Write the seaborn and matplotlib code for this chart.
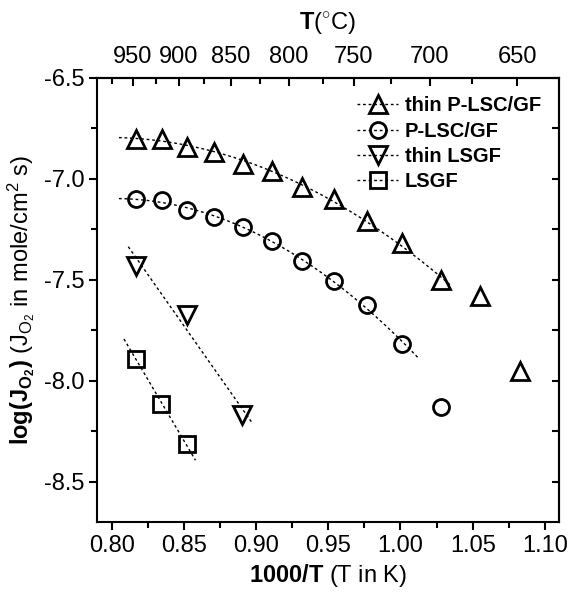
import numpy as np
import pandas as pd
import matplotlib
matplotlib.use("Agg")
import matplotlib.pyplot as plt
import seaborn as sns
from matplotlib.lines import Line2D
from matplotlib.ticker import MultipleLocator, FixedLocator, FormatStrFormatter

# --- data ---
inv_t = [0.817, 0.835, 0.852, 0.871, 0.891, 0.911, 0.932, 0.954, 0.977, 1.001, 1.028, 1.055, 1.083]
thin_plsc = [-6.80, -6.80, -6.84, -6.865, -6.925, -6.96, -7.04, -7.10, -7.21, -7.32, -7.50, -7.58, -7.95]
plsc = [-7.10, -7.105, -7.155, -7.19, -7.24, -7.31, -7.405, -7.505, -7.625, -7.82, -8.13]
thin_lsgf_x = [0.817, 0.852, 0.890]
thin_lsgf = [-7.43, -7.675, -8.17]
lsgf_x = [0.817, 0.834, 0.852]
lsgf = [-7.89, -8.115, -8.315]

top_labels = ["950", "900", "850", "800", "750", "700", "650"]
top_pos = [0.8144, 0.8465, 0.8823, 0.9228, 0.9677, 1.0204, 1.0807]
top_minor = [0.8000, 0.8307, 0.864, 0.903, 0.946, 0.9936, 1.0497]

sns.set_theme(style="ticks")
plt.rcParams['font.family'] = ['Liberation Sans', 'DejaVu Sans']
plt.rcParams['mathtext.fontset'] = 'custom'
plt.rcParams['mathtext.rm'] = 'Liberation Sans'
plt.rcParams['mathtext.it'] = 'Liberation Sans:italic'
plt.rcParams['mathtext.bf'] = 'Liberation Sans:bold'
plt.rcParams['axes.unicode_minus'] = False
plt.rcParams['text.color'] = 'black'
plt.rcParams['axes.labelcolor'] = 'black'
plt.rcParams['xtick.color'] = 'black'
plt.rcParams['ytick.color'] = 'black'

fig = plt.figure(figsize=(5.86, 5.99), dpi=100)
ax = fig.add_axes([0.165, 0.1285, 0.789, 0.7413])

mk = dict(linestyle='none', markerfacecolor='none', markeredgecolor='black',
          markeredgewidth=2.0, color='black')
dots = (0, (2, 2))

# dotted fit lines
fits = [
    (inv_t[:11], thin_plsc[:11], 2, 0.805, 1.035),
    (inv_t[:10], plsc[:10], 2, 0.805, 1.013),
    (thin_lsgf_x, thin_lsgf, 1, 0.8115, 0.8976),
    (lsgf_x, lsgf, 1, 0.8085, 0.858),
]
for xs, ys, deg, x0, x1 in fits:
    c = np.polyfit(xs, ys, deg)
    xf = np.linspace(x0, x1, 50)
    sns.lineplot(x=xf, y=np.polyval(c, xf), ax=ax, color='black', lw=1.0,
                 dashes=False, linestyle=dots, sort=False)

sns.lineplot(x=inv_t, y=thin_plsc, ax=ax, marker='^', markersize=13, **mk)
sns.lineplot(x=inv_t[:len(plsc)], y=plsc, ax=ax, marker='o', markersize=11.5, **mk)
sns.lineplot(x=thin_lsgf_x, y=thin_lsgf, ax=ax, marker='v', markersize=13, **mk)
sns.lineplot(x=lsgf_x, y=lsgf, ax=ax, marker='s', markersize=11, **mk)

ax.set_xlim(0.7896, 1.1098)
ax.set_ylim(-8.70, -6.50)

ax.xaxis.set_major_locator(MultipleLocator(0.05))
ax.xaxis.set_minor_locator(MultipleLocator(0.025))
ax.yaxis.set_major_locator(MultipleLocator(0.5))
ax.yaxis.set_minor_locator(MultipleLocator(0.25))
ax.xaxis.set_major_formatter(FormatStrFormatter('%.2f'))
ax.yaxis.set_major_formatter(FormatStrFormatter('%.1f'))
ax.tick_params(axis='both', which='major', labelsize=17, width=1.5, length=6,
               direction='out', color='black', labelcolor='black')
ax.tick_params(axis='both', which='minor', width=1.5, length=4, direction='out')
ax.tick_params(axis='x', pad=3)
ax.tick_params(axis='y', pad=3)

for s in ax.spines.values():
    s.set_linewidth(1.5)
    s.set_color('black')

# right side inward ticks without labels
axr = ax.secondary_yaxis('right')
axr.yaxis.set_major_locator(MultipleLocator(0.25))
axr.tick_params(direction='in', length=5, width=1.5, labelright=False)
axr.spines['right'].set_linewidth(1.5)

# top temperature axis
axt = ax.secondary_xaxis('top')
axt.set_xticks(top_pos, top_labels)
axt.xaxis.set_minor_locator(FixedLocator(top_minor))
axt.tick_params(which='major', direction='in', length=6, width=1.5, labelsize=17, pad=7.5)
axt.tick_params(which='minor', direction='in', length=4, width=1.5)
axt.spines['top'].set_linewidth(1.5)
axt.set_xlabel(r"$\mathbf{T}$($^{\circ}$C)", fontsize=17, labelpad=12)

ax.set_xlabel(r"$\mathbf{1000/T}$ (T in K)", fontsize=17, labelpad=4)
ax.set_ylabel(r"$\mathbf{log(J_{O_2})}$ (J$_{\mathrm{O_2}}$ in mole/cm$^2$ s)",
              fontsize=17, labelpad=5)

handles = [
    Line2D([], [], color='black', lw=1.0, linestyle=dots, marker='^', markersize=13,
           markerfacecolor='none', markeredgewidth=2.0),
    Line2D([], [], color='black', lw=1.0, linestyle=dots, marker='o', markersize=11.5,
           markerfacecolor='none', markeredgewidth=2.0),
    Line2D([], [], color='black', lw=1.0, linestyle=dots, marker='v', markersize=13,
           markerfacecolor='none', markeredgewidth=2.0),
    Line2D([], [], color='black', lw=1.0, linestyle=dots, marker='s', markersize=11,
           markerfacecolor='none', markeredgewidth=2.0),
]
names = ["thin P-LSC/GF", "P-LSC/GF", "thin LSGF", "LSGF"]
ax.legend(handles, names, loc='upper right', frameon=False,
          prop={'weight': 'bold', 'size': 14.5},
          handlelength=2.0, handletextpad=0.35, labelspacing=0.32,
          borderaxespad=0.6, borderpad=0.3)

fig.savefig("out.png", dpi=100)
